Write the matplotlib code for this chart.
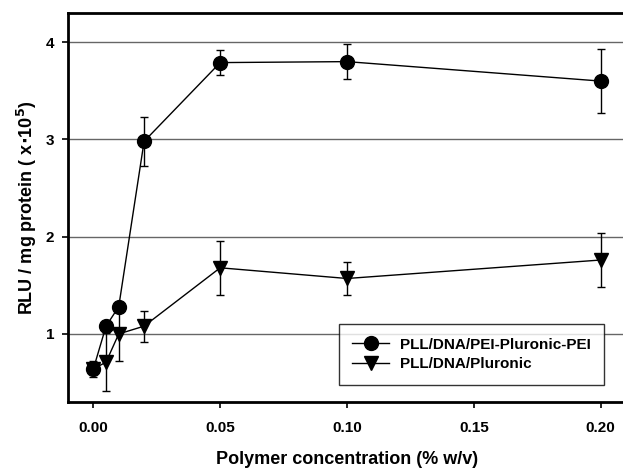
import matplotlib
matplotlib.use("Agg")
import matplotlib.pyplot as plt

# polymer concentration (% w/v)
conc = [0.0, 0.005, 0.01, 0.02, 0.05, 0.10, 0.20]

# PLL/DNA/PEI-Pluronic-PEI
pei_mean = [0.64, 1.08, 1.28, 2.98, 3.79, 3.80, 3.60]
pei_err = [0.08, 0.03, 0.03, 0.25, 0.13, 0.18, 0.33]

# PLL/DNA/Pluronic
plu_mean = [0.64, 0.71, 1.00, 1.08, 1.68, 1.57, 1.76]
plu_err = [0.05, 0.30, 0.28, 0.16, 0.28, 0.17, 0.28]

xticks = [0.00, 0.05, 0.10, 0.15, 0.20]
xtick_labels = ["0.00", "0.05", "0.10", "0.15", "0.20"]
yticks = [1, 2, 3, 4]

plt.rcParams["font.family"] = ["Liberation Sans", "DejaVu Sans"]
plt.rcParams["font.weight"] = "bold"

fig = plt.figure(figsize=(6.23, 4.68), dpi=100)
ax = fig.add_axes([68 / 623, 66 / 468, 558 / 623, 389 / 468])

for y in yticks:
    ax.axhline(y, color="#666666", lw=1.0, zorder=0)

plu = ax.errorbar(conc, plu_mean, yerr=plu_err, color="black", marker="v", ms=10,
                  lw=1, elinewidth=1, capsize=3, capthick=1, zorder=2)
pei = ax.errorbar(conc, pei_mean, yerr=pei_err, color="black", marker="o", ms=10,
                  lw=1, elinewidth=1, capsize=3, capthick=1, zorder=3)

ax.set_xlim(-0.01, 0.21)
ax.set_ylim(0.3, 4.3)
ax.set_xticks(xticks)
ax.set_xticklabels(xtick_labels)
ax.set_yticks(yticks)
ax.tick_params(direction="out", length=4, width=1.2, labelsize=11, pad=10)
ax.tick_params(axis="y", pad=6)

for s in ["left", "bottom", "top"]:
    ax.spines[s].set_linewidth(2)
ax.spines["right"].set_visible(False)

ax.set_xlabel("Polymer concentration (% w/v)", fontsize=13, fontweight="bold", labelpad=11)
ax.set_ylabel(r"RLU / mg protein ( x$\cdot$10$^5$)", fontsize=13, fontweight="bold", labelpad=5)

leg = ax.legend([pei[0], plu[0]], ["PLL/DNA/PEI-Pluronic-PEI", "PLL/DNA/Pluronic"],
                loc="lower right", bbox_to_anchor=(0.975, 0.025), frameon=True,
                fancybox=False, edgecolor="black", fontsize=11, handlelength=2.4,
                handletextpad=0.7, borderpad=0.9, labelspacing=0.35)
leg.get_frame().set_linewidth(1)

fig.savefig("out.png", dpi=100)
